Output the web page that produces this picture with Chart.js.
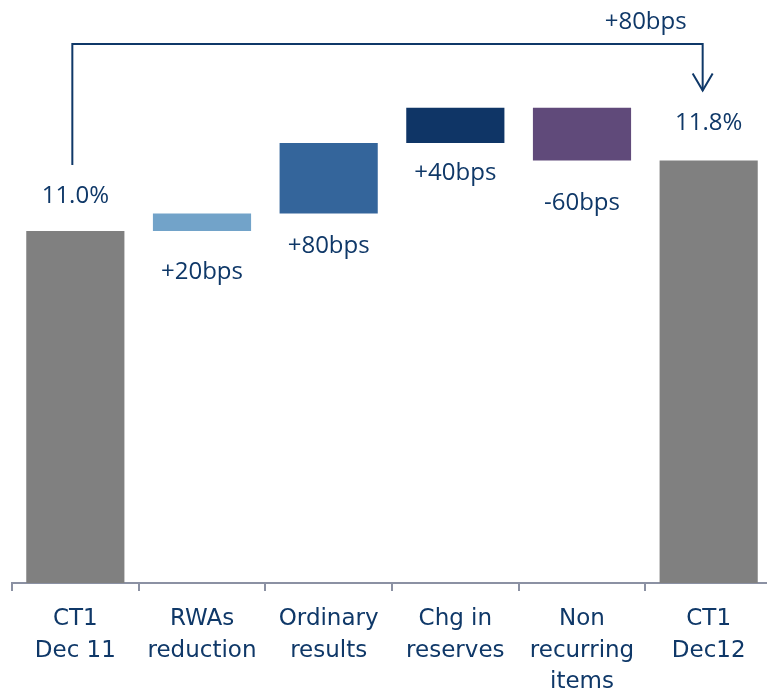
<!DOCTYPE html>
<html>
<head>
<meta charset="utf-8">
<script src="https://cdn.jsdelivr.net/npm/chart.js@4.4.1/dist/chart.umd.min.js"></script>
<style>
  html, body { margin: 0; padding: 0; background: #fff; overflow: hidden; }
  canvas { display: block; }
</style>
</head>
<body>
<canvas id="wf" width="772" height="689"></canvas>
<script>
// chart data
const categories = [["CT1", "Dec 11"], ["RWAs", "reduction"], ["Ordinary", "results"], ["Chg in", "reserves"], ["Non", "recurring", "items"], ["CT1", "Dec12"]];
const startRatio = 11.0;          // CT1 Dec 11, %
const stepChanges = [0.2, 0.8, 0.4, -0.6]; // in % points
const endRatio = 11.8;            // CT1 Dec 12, %
const valueLabels = ["11.0%", "+20bps", "+80bps", "+40bps", "-60bps", "11.8%"];
const totalChangeLabel = "+80bps";

// styling
const barColors = ["#808080", "#72a3c9", "#34659b", "#0f3566", "#604a7a", "#808080"];
const labelGap = [35, 41, 33, 30, 43, 37]; // px between bar edge and label centre
const navy = "#0f3868";
const axisGrey = "#8b91a3";

// floating ranges for the waterfall
let ranges = [[7, startRatio]];
let level = startRatio;
stepChanges.forEach(function (c) {
    ranges.push([level, level + c]);
    level = level + c;
});
ranges.push([7, endRatio]);

const labelPlugin = {
    id: "wfLabels",
    afterDatasetsDraw: function (chart) {
        const ctx = chart.ctx;
        const meta = chart.getDatasetMeta(0);
        ctx.save();
        ctx.fillStyle = navy;
        ctx.textAlign = "center";
        ctx.textBaseline = "middle";
        ctx.font = "24px 'Open Sans'";
        meta.data.forEach(function (bar, i) {
            const top = Math.min(bar.y, bar.base);
            const bottom = Math.max(bar.y, bar.base);
            const total = (i === 0 || i === meta.data.length - 1);
            const y = total ? top - labelGap[i] : bottom + labelGap[i];
            ctx.fillText(valueLabels[i], bar.x, y);
        });

        // bracket with arrow from first to last bar
        const first = meta.data[0];
        const last = meta.data[meta.data.length - 1];
        const x1 = first.x - 3;
        const x2 = last.x - 6;
        const yTop = chart.chartArea.top - 11;
        const yLeft = first.y - 66;
        const yTip = last.y - 70;
        ctx.strokeStyle = navy;
        ctx.lineWidth = 2;
        ctx.beginPath();
        ctx.moveTo(x1, yLeft);
        ctx.lineTo(x1, yTop);
        ctx.lineTo(x2, yTop);
        ctx.lineTo(x2, yTip);
        ctx.stroke();
        ctx.beginPath();
        ctx.moveTo(x2 - 10, yTip - 17);
        ctx.lineTo(x2, yTip);
        ctx.lineTo(x2 + 10, yTip - 17);
        ctx.stroke();
        ctx.fillText(totalChangeLabel, x2 - 57, yTop - 22);
        ctx.restore();
    }
};

new Chart(document.getElementById("wf"), {
    type: "bar",
    data: {
        labels: categories,
        datasets: [{
            data: ranges,
            backgroundColor: barColors,
            borderWidth: 0,
            borderSkipped: false,
            barPercentage: 0.775,
            categoryPercentage: 1
        }]
    },
    options: {
        responsive: false,
        animation: false,
        devicePixelRatio: 1,
        layout: { padding: { top: 55, left: 12, right: 0, bottom: 0 } },
        plugins: {
            legend: { display: false },
            tooltip: { enabled: false }
        },
        scales: {
            y: {
                display: false,
                min: 7,
                max: 13
            },
            x: {
                afterFit: function (scale) { scale.height = 106; },
                border: { color: axisGrey, width: 2 },
                grid: {
                    drawOnChartArea: false,
                    drawTicks: true,
                    tickLength: 8,
                    color: axisGrey,
                    lineWidth: 2
                },
                ticks: {
                    color: navy,
                    padding: 13,
                    maxRotation: 0,
                    autoSkip: false,
                    font: { family: "'DejaVu Sans'", size: 23, lineHeight: 1.35 }
                }
            }
        }
    },
    plugins: [labelPlugin]
});
</script>
</body>
</html>
